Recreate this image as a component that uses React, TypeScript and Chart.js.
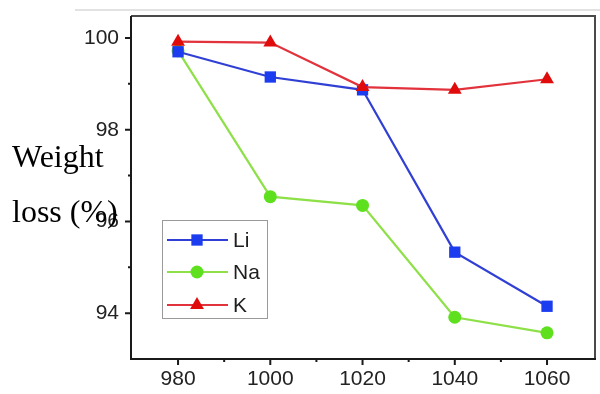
import React, { useEffect, useRef } from 'react';
import { Chart, registerables } from 'chart.js';

Chart.register(...registerables);

// Sintering temperature (°C) and weight loss (%) per alkali dopant
const temperatures = [980, 1000, 1020, 1040, 1060];
const liLoss = [99.7, 99.15, 98.87, 95.33, 94.15];
const naLoss = [99.72, 96.54, 96.35, 93.91, 93.57];
const kLoss = [99.92, 99.9, 98.93, 98.87, 99.1];

const xMajorTicks = [980, 1000, 1020, 1040, 1060];
const xMinorTicks = [990, 1010, 1030, 1050];
const yMajorTicks = [94, 96, 98, 100];
const yMinorTicks = [95, 97, 99];

const seriesNames = ['Li', 'Na', 'K'];
const lineColors = ['#3140d4', '#8ee048', '#e2323c'];
const markerColors = ['#1c3cf0', '#5ee01e', '#e00c0c'];
const markerShapes = ['rect', 'circle', 'triangle'];
const markerRadii = [8, 6.5, 8];

const yTitleLines = ['Weight', 'loss (%)'];

const TICK_FONT = '"Liberation Sans", Arial, sans-serif';

function drawMarker(ctx: CanvasRenderingContext2D, shape: string, x: number, y: number, r: number, color: string) {
  ctx.save();
  ctx.fillStyle = color;
  ctx.beginPath();
  if (shape === 'rect') {
    const s = Math.SQRT1_2 * r;
    ctx.rect(x - s, y - s, 2 * s, 2 * s);
  } else if (shape === 'circle') {
    ctx.arc(x, y, r, 0, Math.PI * 2);
  } else {
    ctx.moveTo(x, y - r);
    ctx.lineTo(x + Math.sin((2 * Math.PI) / 3) * r, y + r / 2);
    ctx.lineTo(x - Math.sin((2 * Math.PI) / 3) * r, y + r / 2);
    ctx.closePath();
  }
  ctx.fill();
  ctx.restore();
}

const framePlugin = {
  id: 'frameAndTicks',
  beforeDatasetsDraw(chart: any) {
    const { ctx, chartArea: a, scales } = chart;
    ctx.save();
    // faint rule across the top
    ctx.strokeStyle = '#e2e2e2';
    ctx.lineWidth = 2;
    ctx.beginPath();
    ctx.moveTo(75, 10);
    ctx.lineTo(600, 10);
    ctx.stroke();

    // top and right edges
    ctx.strokeStyle = '#4a4a4a';
    ctx.lineWidth = 2;
    ctx.beginPath();
    ctx.moveTo(a.left, a.top);
    ctx.lineTo(a.right, a.top);
    ctx.lineTo(a.right, a.bottom);
    ctx.stroke();

    // left and bottom axes
    ctx.strokeStyle = '#1a1a1a';
    ctx.beginPath();
    ctx.moveTo(a.left, a.top);
    ctx.lineTo(a.left, a.bottom);
    ctx.lineTo(a.right + 1, a.bottom);
    ctx.stroke();

    ctx.lineWidth = 2;
    ctx.strokeStyle = '#1a1a1a';
    ctx.beginPath();
    for (const v of yMajorTicks) {
      const p = scales.y.getPixelForValue(v);
      ctx.moveTo(a.left, p);
      ctx.lineTo(a.left - 6, p);
    }
    for (const v of yMinorTicks) {
      const p = scales.y.getPixelForValue(v);
      ctx.moveTo(a.left, p);
      ctx.lineTo(a.left - 3, p);
    }
    for (const v of xMajorTicks) {
      const p = scales.x.getPixelForValue(v);
      ctx.moveTo(p, a.bottom);
      ctx.lineTo(p, a.bottom + 6);
    }
    for (const v of xMinorTicks) {
      const p = scales.x.getPixelForValue(v);
      ctx.moveTo(p, a.bottom);
      ctx.lineTo(p, a.bottom + 3);
    }
    ctx.stroke();
    ctx.restore();
  },
  afterDraw(chart: any) {
    const { ctx } = chart;
    ctx.save();

    // legend box inside the plot
    ctx.strokeStyle = '#9a9a9a';
    ctx.lineWidth = 1;
    ctx.strokeRect(162.5, 220.5, 105, 98);
    const rowY = [240, 272, 305];
    seriesNames.forEach((name, i) => {
      const y = rowY[i];
      ctx.strokeStyle = lineColors[i];
      ctx.lineWidth = 2;
      ctx.beginPath();
      ctx.moveTo(167, y);
      ctx.lineTo(228, y);
      ctx.stroke();
      drawMarker(ctx, markerShapes[i], 197, y, markerRadii[i], markerColors[i]);
      ctx.fillStyle = '#1e1e1e';
      ctx.font = `21px ${TICK_FONT}`;
      ctx.textAlign = 'left';
      ctx.textBaseline = 'middle';
      ctx.fillText(name, 233, y + 1);
    });

    // y-axis title, two serif lines
    ctx.fillStyle = '#000';
    ctx.font = '32px "Liberation Serif", "Times New Roman", serif';
    ctx.textAlign = 'left';
    ctx.textBaseline = 'alphabetic';
    ctx.fillText(yTitleLines[0], 12, 167);
    ctx.fillText(yTitleLines[1], 12, 222);
    ctx.restore();
  },
};

export default function App() {
  const canvasRef = useRef<HTMLCanvasElement | null>(null);

  useEffect(() => {
    const canvas = canvasRef.current;
    if (!canvas) return;
    const series = [liLoss, naLoss, kLoss];
    const chart = new Chart(canvas, {
      type: 'line',
      data: {
        datasets: series.map((vals, i) => ({
          label: seriesNames[i],
          data: temperatures.map((t, j) => ({ x: t, y: vals[j] })),
          borderColor: lineColors[i],
          borderWidth: 2.2,
          backgroundColor: markerColors[i],
          pointBackgroundColor: markerColors[i],
          pointBorderColor: markerColors[i],
          pointBorderWidth: 0,
          pointStyle: markerShapes[i] as any,
          pointRadius: markerRadii[i],
          tension: 0,
          order: [1, 2, 0][i],
        })),
      },
      options: {
        animation: false,
        responsive: false,
        maintainAspectRatio: false,
        events: [],
        layout: { autoPadding: false, padding: { top: 16, right: 5, left: 0, bottom: 0 } },
        plugins: {
          legend: { display: false },
          tooltip: { enabled: false },
          title: { display: false },
        },
        scales: {
          x: {
            type: 'linear',
            min: 969.8,
            max: 1070.4,
            afterFit: (s: any) => {
              s.height = 35;
              s.paddingLeft = 0;
              s.paddingRight = 0;
            },
            afterBuildTicks: (s: any) => {
              s.ticks = xMajorTicks.map((v) => ({ value: v }));
            },
            grid: { display: false, drawTicks: false, tickLength: 0 },
            border: { display: false },
            ticks: {
              padding: 8,
              color: '#222',
              font: { family: TICK_FONT, size: 21 },
              maxRotation: 0,
              callback: (v: any) => String(v),
            },
          },
          y: {
            type: 'linear',
            min: 93,
            max: 100.48,
            afterFit: (s: any) => {
              s.width = 131;
              s.paddingTop = 0;
              s.paddingBottom = 0;
            },
            afterBuildTicks: (s: any) => {
              s.ticks = yMajorTicks.map((v) => ({ value: v }));
            },
            grid: { display: false, drawTicks: false, tickLength: 0 },
            border: { display: false },
            ticks: {
              padding: 12,
              color: '#222',
              font: { family: TICK_FONT, size: 21 },
              callback: (v: any) => String(v),
            },
          },
        },
      },
      plugins: [framePlugin],
    });
    return () => chart.destroy();
  }, []);

  return (
    <div style={{ position: 'absolute', left: 0, top: 0, width: 600, height: 394, background: '#fff' }}>
      <canvas ref={canvasRef} width={600} height={394} style={{ display: 'block', width: 600, height: 394 }} />
    </div>
  );
}
